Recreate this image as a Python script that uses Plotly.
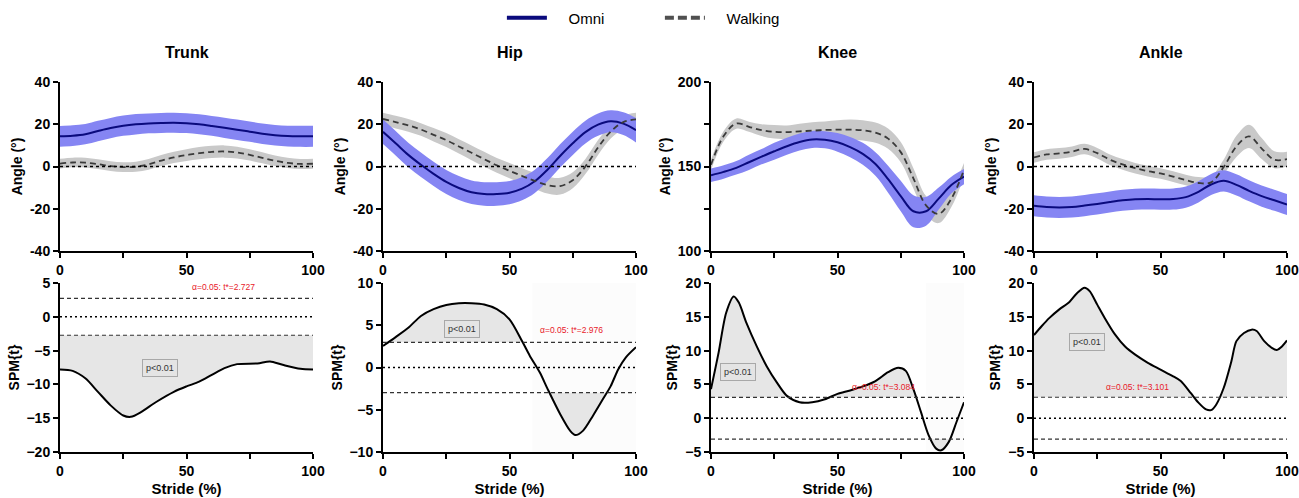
import numpy as np
import plotly.graph_objects as go

# ---------------- data ----------------
joints = ["Trunk", "Hip", "Knee", "Ankle"]
stride = [0, 5, 10, 15, 20, 25, 30, 35, 40, 45, 50, 55, 60, 65, 70, 75, 80, 85, 90, 95, 100]

trunk_omni = [14.3, 14.6, 15.3, 16.8, 18.2, 19.3, 20.0, 20.4, 20.6, 20.7, 20.5, 20.0, 19.2, 18.3, 17.4, 16.5, 15.5, 14.8, 14.4, 14.3, 14.3]
trunk_omni_sd = [4.9, 4.9, 4.8, 4.8, 4.8, 4.8, 4.8, 4.7, 4.7, 4.7, 4.7, 4.7, 4.7, 4.8, 4.8, 4.8, 4.9, 4.9, 4.9, 5.0, 5.0]
trunk_walk = [1.4, 1.9, 1.8, 1.1, 0.2, -0.3, -0.1, 1.0, 2.8, 4.3, 5.4, 6.3, 6.9, 7.1, 6.6, 5.5, 4.1, 2.7, 1.7, 1.2, 1.3]
trunk_walk_sd = [2.3, 2.3, 2.3, 2.3, 2.3, 2.3, 2.4, 2.5, 2.6, 2.7, 2.8, 2.9, 2.9, 2.9, 2.8, 2.7, 2.6, 2.5, 2.4, 2.4, 2.4]

hip_omni = [16.4, 11.0, 5.5, 0.8, -3.5, -7.3, -10.2, -12.2, -13.0, -13.0, -12.4, -10.5, -7.0, -1.5, 5.0, 11.0, 16.3, 19.8, 21.4, 20.3, 17.2]
hip_omni_sd = [5.8, 5.8, 5.8, 5.8, 5.7, 5.7, 5.7, 5.6, 5.6, 5.6, 5.5, 5.5, 5.5, 5.5, 5.5, 5.5, 5.4, 5.3, 5.2, 5.4, 5.8]
hip_walk = [22.5, 21.0, 19.5, 17.5, 15.0, 12.5, 9.5, 6.5, 3.5, 0.5, -2.0, -4.5, -6.8, -8.8, -9.3, -6.5, 0.0, 9.0, 16.5, 21.0, 22.3]
hip_walk_sd = [3.0, 3.0, 3.0, 3.0, 3.2, 3.3, 3.4, 3.5, 3.5, 3.5, 3.6, 3.7, 3.8, 4.0, 4.0, 3.8, 3.6, 3.5, 3.3, 3.2, 3.2]

knee_omni = [144.8, 146.8, 149.2, 152.5, 155.8, 159.0, 162.0, 164.5, 166.0, 165.8, 164.3, 161.5, 157.5, 151.5, 142.5, 132.5, 123.5, 123.5, 131.0, 139.0, 144.0]
knee_omni_sd = [4.0, 4.0, 4.0, 4.5, 4.5, 5.0, 5.0, 5.0, 5.0, 5.0, 5.5, 6.0, 6.5, 7.0, 8.0, 9.0, 9.5, 8.5, 6.5, 5.0, 4.5]
knee_walk = [151.0, 168.0, 175.4, 173.5, 171.5, 170.5, 170.3, 170.8, 171.2, 171.6, 171.8, 171.8, 171.4, 170.0, 166.5, 158.5, 143.0, 127.0, 122.0, 131.0, 148.0]
knee_walk_sd = [3.0, 3.0, 3.0, 3.0, 3.5, 4.0, 4.0, 4.5, 5.0, 5.0, 5.5, 6.0, 6.0, 6.0, 6.0, 6.0, 6.0, 5.5, 5.5, 5.0, 4.0]

ankle_omni = [-18.6, -19.2, -19.4, -19.2, -18.5, -17.7, -16.8, -16.0, -15.5, -15.4, -15.5, -15.4, -14.5, -12.0, -8.5, -6.8, -8.7, -11.5, -14.0, -16.0, -18.0]
ankle_omni_sd = [5.0, 5.0, 5.0, 5.0, 5.0, 5.0, 5.0, 5.0, 5.0, 5.0, 5.0, 5.0, 5.0, 5.0, 5.0, 5.0, 5.0, 5.0, 5.0, 5.0, 5.0]
ankle_walk = [4.3, 5.7, 6.2, 7.0, 8.3, 6.3, 3.2, 1.0, -0.8, -2.2, -3.3, -4.8, -6.4, -7.8, -7.5, -0.2, 9.5, 14.3, 8.5, 3.2, 3.5]
ankle_walk_sd = [2.5, 2.5, 2.5, 2.5, 2.5, 2.5, 2.5, 2.5, 2.5, 2.5, 2.5, 2.5, 2.5, 2.8, 3.0, 3.5, 5.0, 5.5, 5.0, 4.0, 3.5]

trunk_spm_x = [0, 5, 10, 15, 20, 25, 28, 32, 38, 45, 50, 55, 60, 65, 70, 78, 83, 88, 95, 100]
trunk_spm = [-7.8, -8.0, -9.1, -11.1, -13.1, -14.6, -14.8, -14.1, -12.6, -11.1, -10.3, -9.6, -8.6, -7.6, -7.0, -6.9, -6.6, -7.1, -7.7, -7.8]
hip_spm_x = [0, 5, 10, 15, 20, 25, 30, 35, 40, 45, 50, 55, 58, 62, 65, 70, 74, 76, 79, 83, 87, 90, 93, 96, 100]
hip_spm = [2.55, 3.6, 4.7, 6.1, 6.9, 7.4, 7.6, 7.6, 7.45, 6.9, 5.7, 3.1, 1.4, -0.6, -2.5, -5.5, -7.5, -8.0, -7.5, -5.7, -3.7, -2.2, -0.2, 1.2, 2.4]
knee_spm_x = [0, 3, 6, 9, 11, 14, 18, 22, 26, 30, 35, 40, 45, 50, 55, 60, 65, 70, 74, 77, 80, 83, 86, 89, 91, 94, 97, 100]
knee_spm = [4.3, 9.7, 15.6, 18.0, 17.1, 14.1, 10.7, 7.7, 5.3, 3.3, 2.35, 2.35, 2.8, 3.6, 4.1, 4.7, 5.5, 6.8, 7.45, 7.0, 4.3, 0.9, -2.5, -4.5, -4.75, -3.5, -0.6, 2.35]
ankle_spm_x = [0, 3, 6, 10, 14, 17, 20, 22, 25, 28, 32, 36, 40, 45, 50, 55, 58, 62, 65, 68, 70, 72, 75, 78, 80, 83, 86, 88, 91, 94, 96, 98, 100]
ankle_spm = [12.3, 13.6, 14.8, 16.1, 17.2, 18.5, 19.3, 18.8, 16.8, 14.8, 12.4, 10.6, 9.4, 8.2, 7.2, 6.2, 5.5, 3.7, 2.3, 1.3, 1.2, 2.0, 4.5, 8.4, 11.4, 12.6, 13.1, 12.9, 11.4, 10.4, 10.1, 10.6, 11.5]

thresholds = [2.727, 2.976, 3.084, 3.101]
p_labels = ["p<0.01", "p<0.01", "p<0.01", "p<0.01"]
p_label_pos = [(39.6, -7.5), (31.4, 4.5), (10.8, 6.8), (20.8, 11.3)]
thr_label_pos = [(64.7, 3.4), (74.6, 3.6), (68.0, 3.6), (41.0, 3.6)]
faint_regions = [None, (59, 100), (85, 100), None]

angle_ranges = [(-40, 40), (-40, 40), (100, 200), (-40, 40)]
angle_ticks = [[-40, -20, 0, 20, 40], [-40, -20, 0, 20, 40], [100, 125, 150, 175, 200], [-40, -20, 0, 20, 40]]
angle_ticktext = [["-40", "-20", "0", "20", "40"], ["-40", "-20", "0", "20", "40"], ["100", "", "150", "", "200"], ["-40", "-20", "0", "20", "40"]]
spm_ranges = [(-20, 5), (-10, 10), (-5, 20), (-5, 20)]
spm_ticks = [[-20, -15, -10, -5, 0, 5], [-10, -5, 0, 5, 10], [-5, 0, 5, 10, 15, 20], [-5, 0, 5, 10, 15, 20]]
x_ticks = [0, 25, 50, 75, 100]
x_ticktext = ["0", "", "50", "", "100"]

omni_means = [trunk_omni, hip_omni, knee_omni, ankle_omni]
omni_sds = [trunk_omni_sd, hip_omni_sd, knee_omni_sd, ankle_omni_sd]
walk_means = [trunk_walk, hip_walk, knee_walk, ankle_walk]
walk_sds = [trunk_walk_sd, hip_walk_sd, knee_walk_sd, ankle_walk_sd]
spm_xs = [trunk_spm_x, hip_spm_x, knee_spm_x, ankle_spm_x]
spm_ys = [trunk_spm, hip_spm, knee_spm, ankle_spm]

# ---------------- style ----------------
W, H = 1299, 498
FONT = "Liberation Sans, Arial, Helvetica, sans-serif"
OMNI_LINE = "#0a0a7d"
OMNI_BAND = "#8585f3"
WALK_LINE = "#3a3a3a"
WALK_BAND = "#c9c9c9"
SHADE = "#e6e6e6"

col_px = [(60, 313), (383, 636), (711, 964), (1034, 1287)]
top_px = (82, 251)
bot_px = (283, 452)


def ydom(p):
    return [(H - p[1]) / H, (H - p[0]) / H]


def regions(x, y, thr, sign):
    x = np.asarray(x, float)
    y = np.asarray(y, float)
    d = sign * (y - thr)
    polys, cur = [], []
    for i in range(len(x)):
        if i > 0 and (d[i - 1] > 0) != (d[i] > 0):
            t = d[i - 1] / (d[i - 1] - d[i])
            xc = x[i - 1] + t * (x[i] - x[i - 1])
            cur.append((xc, thr))
            if d[i] <= 0:
                polys.append(cur)
                cur = []
        if d[i] > 0:
            cur.append((x[i], y[i]))
    if cur:
        polys.append(cur)
    out = []
    for pts in polys:
        px = [p[0] for p in pts] + [pts[-1][0], pts[0][0], pts[0][0]]
        py = [p[1] for p in pts] + [thr, thr, pts[0][1]]
        out.append((px, py))
    return out


fig = go.Figure()
layout = {}
shapes = []
annotations = []

for i, name in enumerate(joints):
    ti = 2 * i + 1
    bi = 2 * i + 2
    xt, yt = f"x{ti}", f"y{ti}"
    xb, yb = f"x{bi}", f"y{bi}"
    xd = [col_px[i][0] / W, col_px[i][1] / W]

    axis_common = dict(showline=True, linewidth=2, linecolor="black", ticks="outside",
                       ticklen=5, tickwidth=2, tickcolor="black", showgrid=False, zeroline=False,
                       automargin=False,
                       tickfont=dict(family=FONT, size=14, color="black", weight="bold"))
    for idx, yd in ((ti, ydom(top_px)), (bi, ydom(bot_px))):
        layout[f"xaxis{idx}"] = dict(domain=xd, anchor=f"y{idx}", range=[0, 100],
                                     tickvals=x_ticks, ticktext=x_ticktext, **axis_common)
    layout[f"xaxis{bi}"]["title"] = dict(text="Stride (%)", font=dict(family=FONT, size=15, color="black", weight="bold"), standoff=6)
    layout[f"yaxis{ti}"] = dict(domain=ydom(top_px), anchor=f"x{ti}", range=list(angle_ranges[i]),
                                tickvals=angle_ticks[i], ticktext=angle_ticktext[i],
                                title=dict(text="Angle (°)", font=dict(family=FONT, size=14, color="black", weight="bold"), standoff=4),
                                **axis_common)
    layout[f"yaxis{bi}"] = dict(domain=ydom(bot_px), anchor=f"x{bi}", range=list(spm_ranges[i]),
                                tickvals=spm_ticks[i],
                                title=dict(text="SPM{t}", font=dict(family=FONT, size=14, color="black", weight="bold"), standoff=4),
                                **axis_common)

    # ---- top: bands and means ----
    wm = np.array(walk_means[i]); ws = np.array(walk_sds[i])
    om = np.array(omni_means[i]); osd = np.array(omni_sds[i])
    for m, s, col in ((wm, ws, WALK_BAND), (om, osd, OMNI_BAND)):
        fig.add_trace(go.Scatter(x=stride, y=m - s, mode="lines", line=dict(width=0, shape="spline"),
                                 showlegend=False, hoverinfo="skip", xaxis=xt, yaxis=yt))
        fig.add_trace(go.Scatter(x=stride, y=m + s, mode="lines", line=dict(width=0, shape="spline"),
                                 fill="tonexty", fillcolor=col, showlegend=False, hoverinfo="skip",
                                 xaxis=xt, yaxis=yt))
    fig.add_trace(go.Scatter(x=stride, y=om, mode="lines", line=dict(color=OMNI_LINE, width=2, shape="spline"),
                             showlegend=False, xaxis=xt, yaxis=yt, name="Omni"))
    fig.add_trace(go.Scatter(x=stride, y=wm, mode="lines",
                             line=dict(color=WALK_LINE, width=1.8, shape="spline", dash="6px,4px"),
                             showlegend=False, xaxis=xt, yaxis=yt, name="Walking"))
    if angle_ranges[i][0] < 0 < angle_ranges[i][1]:
        shapes.append(dict(type="line", xref=xt, yref=yt, x0=0, x1=100, y0=0, y1=0,
                           line=dict(color="black", width=1.5, dash="dot"), layer="above"))

    # ---- bottom: SPM ----
    thr = thresholds[i]
    if faint_regions[i]:
        r0, r1 = faint_regions[i]
        shapes.append(dict(type="rect", xref=xb, yref=yb, x0=r0, x1=r1, y0=spm_ranges[i][0], y1=spm_ranges[i][1],
                           fillcolor="#fcfcfc", line=dict(width=0), layer="below"))
    for sign in (1, -1):
        for px, py in regions(spm_xs[i], spm_ys[i], sign * thr, sign):
            fig.add_trace(go.Scatter(x=px, y=py, mode="lines", fill="toself", fillcolor=SHADE,
                                     line=dict(width=0), showlegend=False, hoverinfo="skip",
                                     xaxis=xb, yaxis=yb))
    fig.add_trace(go.Scatter(x=spm_xs[i], y=spm_ys[i], mode="lines",
                             line=dict(color="black", width=2, shape="spline", smoothing=0.8),
                             showlegend=False, xaxis=xb, yaxis=yb))
    for yv, dsh in ((thr, "4px,3px"), (-thr, "4px,3px"), (0, "2px,3px")):
        shapes.append(dict(type="line", xref=xb, yref=yb, x0=0, x1=100, y0=yv, y1=yv,
                           line=dict(color="#333333" if yv else "black", width=1.2 if yv else 1.5, dash=dsh),
                           layer="above"))
    annotations.append(dict(x=p_label_pos[i][0], y=p_label_pos[i][1], xref=xb, yref=yb, text=p_labels[i],
                            showarrow=False, font=dict(family=FONT, size=9, color="#333333"),
                            bgcolor="#e4e4e4", bordercolor="#a8a8a8", borderwidth=1, borderpad=3))
    annotations.append(dict(x=thr_label_pos[i][0], y=thr_label_pos[i][1], xref=xb, yref=yb,
                            text=f"α=0.05: t*={thr:.3f}", showarrow=False, yanchor="bottom",
                            font=dict(family=FONT, size=8.5, color="#e8202a")))
    # subplot title
    annotations.append(dict(x=(xd[0] + xd[1]) / 2, y=(H - 53) / H, xref="paper", yref="paper",
                            text=f"<b>{name}</b>", showarrow=False, yanchor="middle", xanchor="center",
                            font=dict(family=FONT, size=16, color="black")))

# legend entries
fig.add_trace(go.Scatter(x=[None], y=[None], mode="lines", name="\u00a0\u00a0\u00a0\u00a0Omni",
                         line=dict(color=OMNI_LINE, width=4), xaxis="x1", yaxis="y1"))
fig.add_trace(go.Scatter(x=[None], y=[None], mode="lines", name="\u00a0\u00a0\u00a0\u00a0Walking",
                         line=dict(color="#505050", width=4, dash="9px,4px"), xaxis="x1", yaxis="y1"))

fig.update_layout(
    width=W, height=H, margin=dict(l=0, r=0, t=0, b=0),
    paper_bgcolor="white", plot_bgcolor="white",
    font=dict(family=FONT, color="black"),
    shapes=shapes, annotations=annotations,
    legend=dict(orientation="h", x=0.508, xanchor="center", y=(H - 18) / H, yanchor="middle",
                font=dict(family=FONT, size=15, color="black"), entrywidth=103, itemwidth=40,
                traceorder="normal", bgcolor="rgba(0,0,0,0)"),
    **layout,
)

fig.write_html("out.html", include_plotlyjs=True, config={"displayModeBar": False},
               post_script="document.body.style.margin='0';document.body.style.overflow='hidden';")
